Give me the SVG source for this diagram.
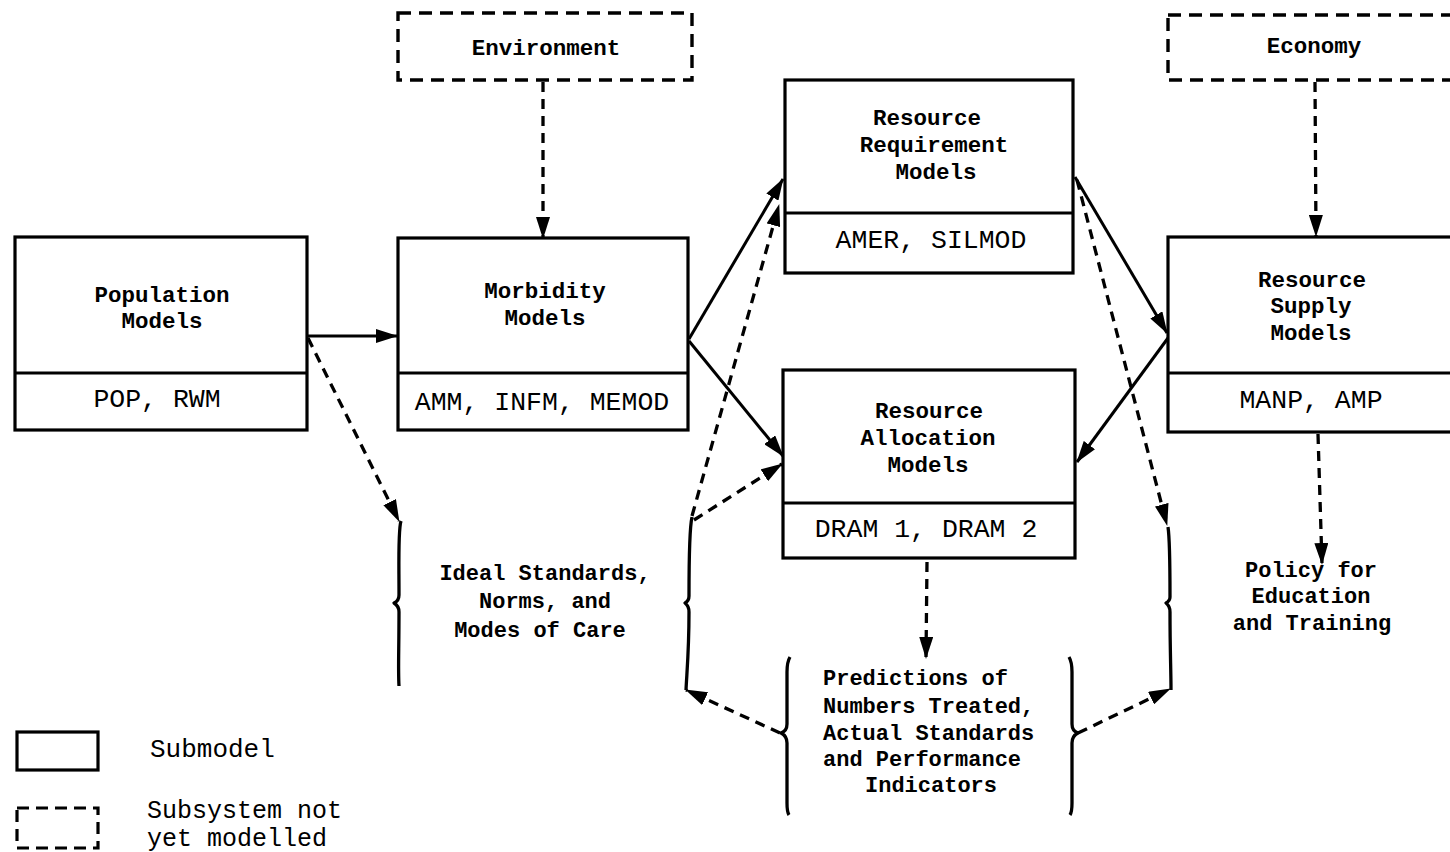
<svg xmlns="http://www.w3.org/2000/svg" width="1450" height="852" viewBox="0 0 1450 852">
<style>
.box{fill:none;stroke:#000;stroke-width:3.2}
.dbox{fill:none;stroke:#000;stroke-width:3.4;stroke-dasharray:13 8}
.t{font-family:"Liberation Mono","Courier New",monospace;fill:#000;text-anchor:middle}
.lb{font-size:22.5px;font-weight:bold}
.cd{font-size:26.5px}
.ds{font-size:22px;font-weight:bold}
.sl{fill:none;stroke:#000;stroke-width:3}
.dl{fill:none;stroke:#000;stroke-width:3.3;stroke-dasharray:10 7}
.br{fill:none;stroke:#000;stroke-width:3.3;stroke-linejoin:round}
</style>
<defs>
<marker id="ah" viewBox="0 0 22 14" refX="21" refY="7" markerWidth="22" markerHeight="14" markerUnits="userSpaceOnUse" orient="auto">
<path d="M0,0 L22,7 L0,14 z" fill="#000"/>
</marker>
</defs>
<rect width="1450" height="852" fill="#fff"/>

<g id="environment">
<rect class="dbox" x="398" y="13" width="294" height="67"/>
<text class="t lb" x="546" y="55">Environment</text>
</g>
<g id="economy">
<rect class="dbox" x="1168" y="15" width="300" height="65"/>
<text class="t lb" x="1314" y="53">Economy</text>
</g>
<g id="population">
<rect class="box" x="15" y="237" width="292" height="193"/>
<line class="box" x1="15" y1="373" x2="307" y2="373"/>
<text class="t lb" x="162" y="302">Population</text>
<text class="t lb" x="162" y="328">Models</text>
<text class="t cd" x="157" y="407">POP, RWM</text>
</g>
<g id="morbidity">
<rect class="box" x="398" y="238" width="290" height="192"/>
<line class="box" x1="398" y1="373" x2="688" y2="373"/>
<text class="t lb" x="545" y="298">Morbidity</text>
<text class="t lb" x="545" y="325">Models</text>
<text class="t cd" x="542" y="410">AMM, INFM, MEMOD</text>
</g>
<g id="requirement">
<rect class="box" x="785" y="80" width="288" height="193"/>
<line class="box" x1="785" y1="213" x2="1073" y2="213"/>
<text class="t lb" x="927" y="125">Resource</text>
<text class="t lb" x="934" y="152">Requirement</text>
<text class="t lb" x="936" y="179">Models</text>
<text class="t cd" x="931" y="248">AMER, SILMOD</text>
</g>
<g id="allocation">
<rect class="box" x="783" y="370" width="292" height="188"/>
<line class="box" x1="783" y1="503" x2="1075" y2="503"/>
<text class="t lb" x="929" y="418">Resource</text>
<text class="t lb" x="928" y="445">Allocation</text>
<text class="t lb" x="928" y="472">Models</text>
<text class="t cd" x="926" y="537">DRAM 1, DRAM 2</text>
</g>
<g id="supply">
<rect class="box" x="1168" y="237" width="300" height="195"/>
<line class="box" x1="1168" y1="373" x2="1468" y2="373"/>
<text class="t lb" x="1312" y="287">Resource</text>
<text class="t lb" x="1311" y="313">Supply</text>
<text class="t lb" x="1311" y="340">Models</text>
<text class="t cd" x="1311" y="408">MANP, AMP</text>
</g>
<g id="ideal">
<path class="br" d="M401,521 C398,530 399,560 399,595 Q399,601 394,603 Q399,606 399,612 C399,650 398,670 399,686"/>
<path class="br" d="M692,517 C689,530 689,560 689,596 Q689,601 685,603 Q689,606 689,612 C689,650 687,670 686,690"/>
<text class="t ds" x="545" y="580">Ideal Standards,</text>
<text class="t ds" x="545" y="608">Norms, and</text>
<text class="t ds" x="540" y="637">Modes of Care</text>
</g>
<g id="predictions">
<path class="br" d="M790,657 Q787,662 787,672 L787,724 Q787,731 781,733 Q787,736 787,743 L787,803 Q787,812 789,815"/>
<path class="br" d="M1069,657 Q1072,662 1072,672 L1072,724 Q1072,731 1078,733 Q1072,736 1072,743 L1072,803 Q1072,812 1070,815"/>
<text class="t ds" x="823" y="685" style="text-anchor:start">Predictions of</text>
<text class="t ds" x="823" y="713" style="text-anchor:start">Numbers Treated,</text>
<text class="t ds" x="823" y="740" style="text-anchor:start">Actual Standards</text>
<text class="t ds" x="823" y="766" style="text-anchor:start">and Performance</text>
<text class="t ds" x="931" y="792">Indicators</text>
</g>
<g id="supplyOutputs">
<path class="br" d="M1168,527 C1170,540 1170,570 1170,597 Q1170,601 1166,603 Q1170,606 1170,612 C1170,650 1171,670 1171,690"/>
</g>
<g id="policy">
<text class="t ds" x="1311" y="577">Policy for</text>
<text class="t ds" x="1311" y="603">Education</text>
<text class="t ds" x="1312" y="630">and Training</text>
</g>
<g id="legend">
<rect class="box" x="17" y="732" width="81" height="38"/>
<text class="t cd" x="150" y="757" style="text-anchor:start;font-size:26px">Submodel</text>
<rect class="box" x="17" y="808" width="81" height="40" style="stroke-dasharray:12 7"/>
<text class="t cd" x="147" y="818" style="text-anchor:start;font-size:25px">Subsystem not</text>
<text class="t cd" x="147" y="846" style="text-anchor:start;font-size:25px">yet modelled</text>
</g>

<g id="connectors">
<line class="dl" x1="543" y1="82" x2="543" y2="238" marker-end="url(#ah)"/>
<line class="dl" x1="1315" y1="82" x2="1316" y2="236" marker-end="url(#ah)"/>
<line class="sl" x1="307" y1="336" x2="397" y2="336" marker-end="url(#ah)"/>
<line class="dl" x1="308" y1="338" x2="399" y2="521" marker-end="url(#ah)"/>
<line class="sl" x1="689" y1="339" x2="783" y2="179" marker-end="url(#ah)"/>
<line class="sl" x1="689" y1="341" x2="783" y2="456" marker-end="url(#ah)"/>
<line class="dl" x1="692" y1="516" x2="779" y2="205" marker-end="url(#ah)"/>
<line class="dl" x1="694" y1="520" x2="782" y2="464" marker-end="url(#ah)"/>
<line class="sl" x1="1075" y1="177" x2="1167" y2="333" marker-end="url(#ah)"/>
<line class="sl" x1="1168" y1="338" x2="1077" y2="462" marker-end="url(#ah)"/>
<line class="dl" x1="1077" y1="180" x2="1167" y2="525" marker-end="url(#ah)"/>
<line class="dl" x1="927" y1="562" x2="926" y2="658" marker-end="url(#ah)"/>
<line class="dl" x1="1318" y1="434" x2="1322" y2="564" marker-end="url(#ah)"/>
<line class="dl" x1="780" y1="733" x2="686" y2="690" marker-end="url(#ah)"/>
<line class="dl" x1="1078" y1="733" x2="1170" y2="689" marker-end="url(#ah)"/>
</g>
</svg>
